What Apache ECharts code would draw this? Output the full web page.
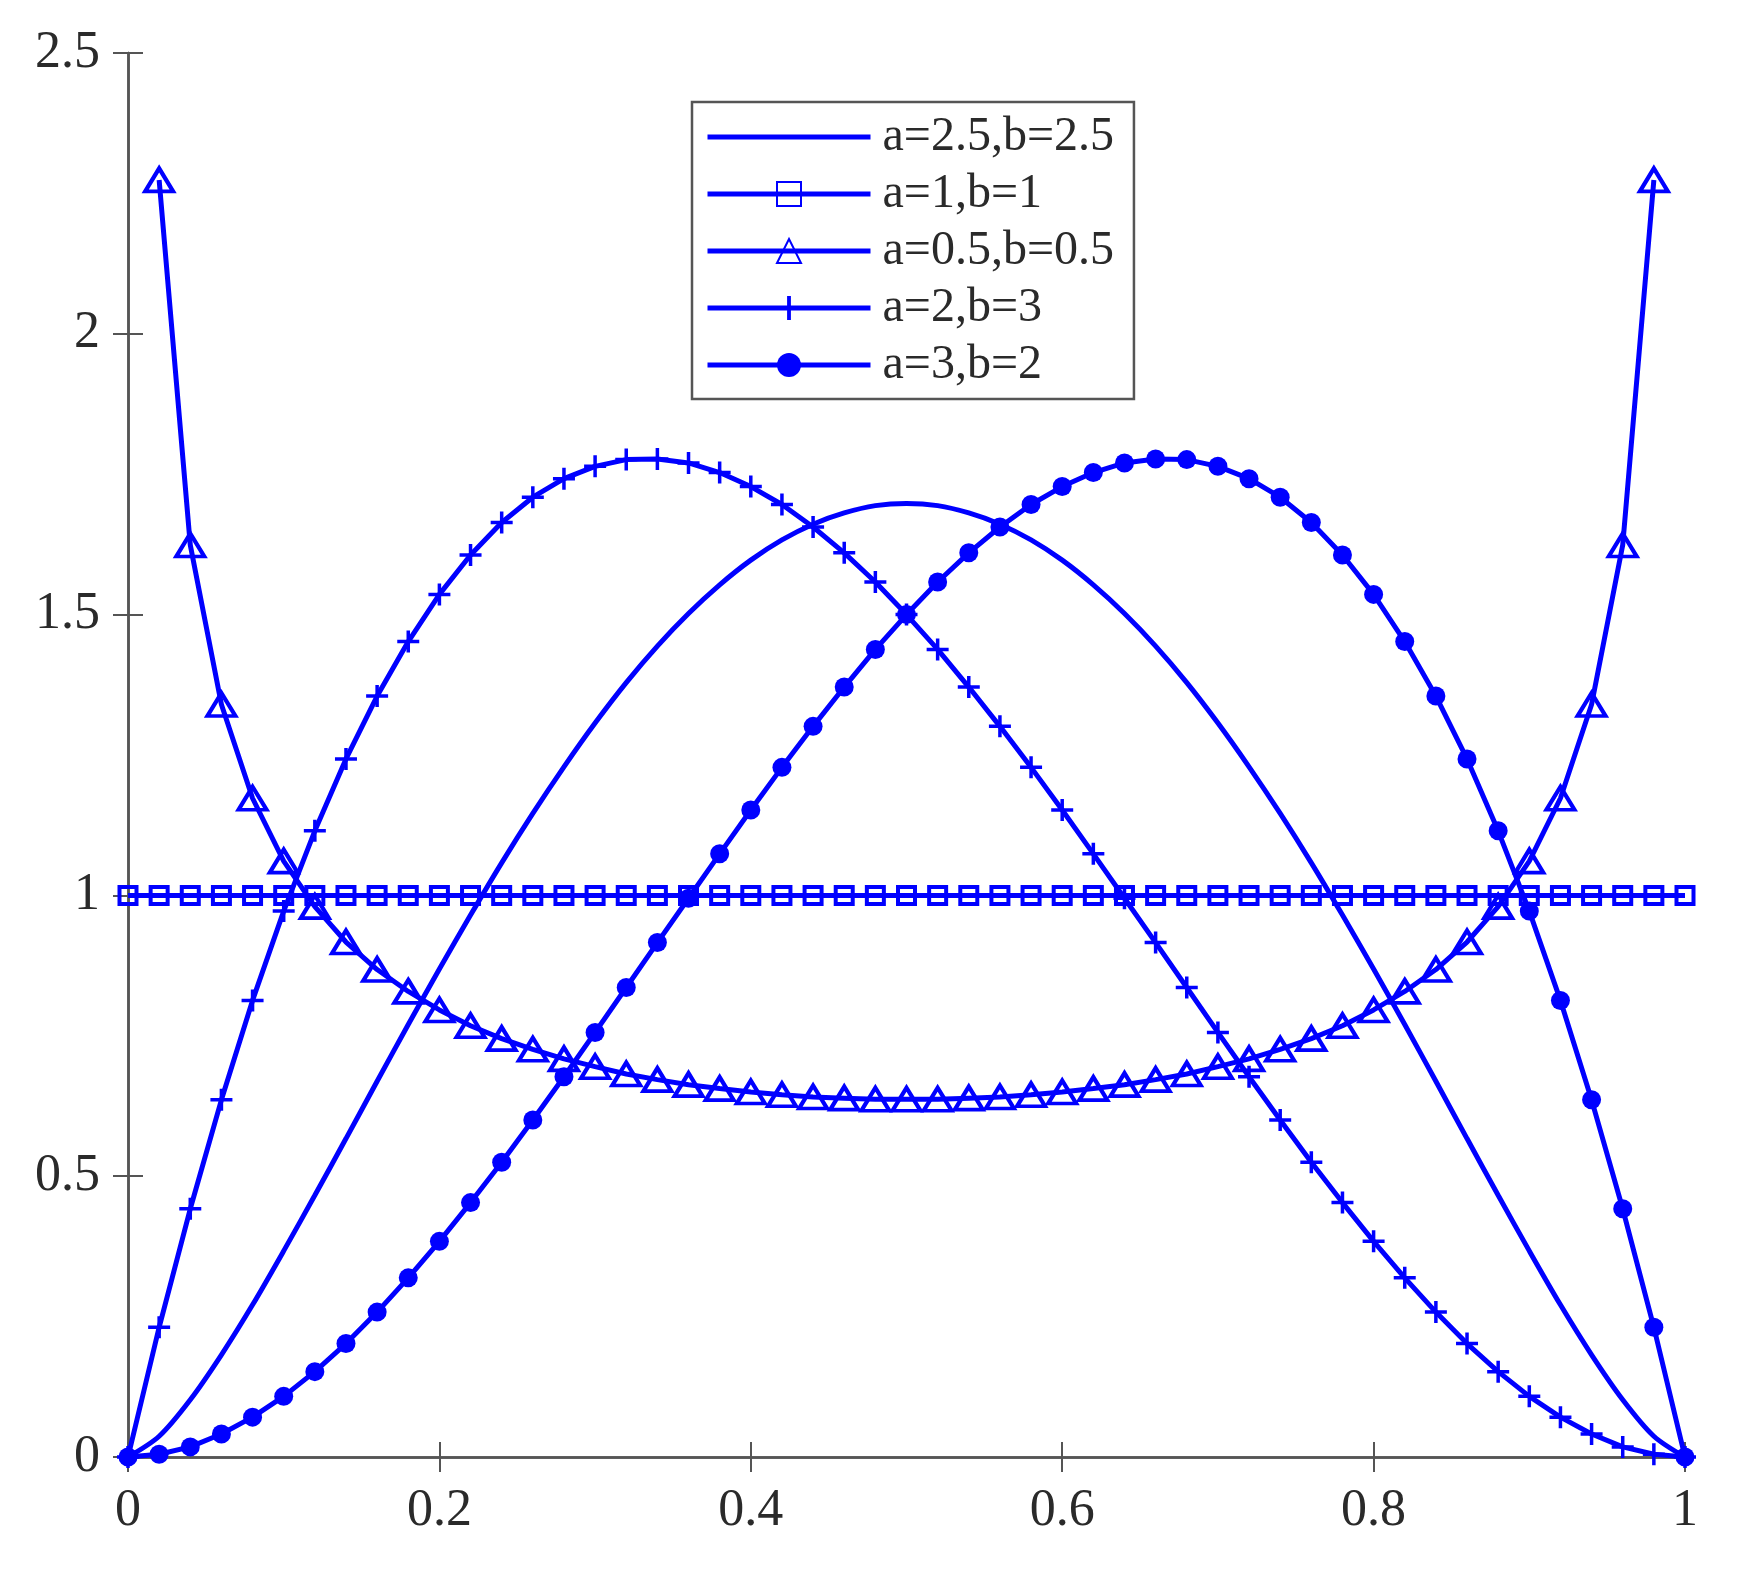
<!DOCTYPE html>
<html>
<head>
<meta charset="utf-8">
<script src="https://cdn.jsdelivr.net/npm/echarts@6/dist/echarts.min.js"></script>
<style>html,body{margin:0;padding:0;background:#fff}#c{width:1740px;height:1571px}</style>
</head>
<body>
<div id="c"></div>
<script>
const xValues = [0,0.02,0.04,0.06,0.08,0.1,0.12,0.14,0.16,0.18,0.2,0.22,0.24,0.26,0.28,0.3,0.32,0.34,0.36,0.38,0.4,0.42,0.44,0.46,0.48,0.5,0.52,0.54,0.56,0.58,0.6,0.62,0.64,0.66,0.68,0.7,0.72,0.74,0.76,0.78,0.8,0.82,0.84,0.86,0.88,0.9,0.92,0.94,0.96,0.98,1];
const seriesNames = ['a=2.5,b=2.5','a=1,b=1','a=0.5,b=0.5','a=2,b=3','a=3,b=2'];
const yA25B25 = [0,0.037,0.102,0.182,0.271,0.367,0.466,0.567,0.669,0.770,0.869,0.965,1.058,1.146,1.229,1.307,1.379,1.444,1.502,1.553,1.597,1.633,1.661,1.681,1.694,1.698,1.694,1.681,1.661,1.633,1.597,1.553,1.502,1.444,1.379,1.307,1.229,1.146,1.058,0.965,0.869,0.770,0.669,0.567,0.466,0.367,0.271,0.182,0.102,0.037,0];
const yA1B1 = [1,1,1,1,1,1,1,1,1,1,1,1,1,1,1,1,1,1,1,1,1,1,1,1,1,1,1,1,1,1,1,1,1,1,1,1,1,1,1,1,1,1,1,1,1,1,1,1,1,1,1];
const yA05B05 = [null,2.274,1.624,1.340,1.173,1.061,0.980,0.917,0.868,0.829,0.796,0.768,0.745,0.726,0.709,0.695,0.682,0.672,0.663,0.656,0.650,0.645,0.641,0.639,0.637,0.637,0.637,0.639,0.641,0.645,0.650,0.656,0.663,0.672,0.682,0.695,0.709,0.726,0.745,0.768,0.796,0.829,0.868,0.917,0.980,1.061,1.173,1.340,1.624,2.274,null];
const yA2B3 = [0,0.231,0.442,0.636,0.813,0.972,1.115,1.243,1.355,1.452,1.536,1.606,1.664,1.709,1.742,1.764,1.776,1.777,1.770,1.753,1.728,1.696,1.656,1.610,1.558,1.500,1.438,1.371,1.301,1.228,1.152,1.074,0.995,0.916,0.836,0.756,0.677,0.600,0.525,0.453,0.384,0.319,0.258,0.202,0.152,0.108,0.071,0.041,0.018,0.005,0];
const yA3B2 = [0,0.005,0.018,0.041,0.071,0.108,0.152,0.202,0.258,0.319,0.384,0.453,0.525,0.600,0.677,0.756,0.836,0.916,0.995,1.074,1.152,1.228,1.301,1.371,1.438,1.500,1.558,1.610,1.656,1.696,1.728,1.753,1.770,1.777,1.776,1.764,1.742,1.709,1.664,1.606,1.536,1.452,1.355,1.243,1.115,0.972,0.813,0.636,0.442,0.231,0];
const xTicks = [0,0.2,0.4,0.6,0.8,1];
const yTicks = [0,0.5,1,1.5,2,2.5];

const pair = ys => xValues.map((x,i) => [x, ys[i]]);
const blue = '#0000ff';
const clear = 'rgba(0,0,0,0)';
const plusPath = 'path://M9.25,0H12.75V9.25H22V12.75H12.75V22H9.25V12.75H0V9.25H9.25Z';
const font = 'Liberation Serif';
const LW = 5;

function mk(i, ys, extra) {
  return Object.assign({
    type: 'line', name: seriesNames[i], data: pair(ys),
    smooth: false, connectNulls: false,
    lineStyle: {color: blue, width: LW, type: 'solid'},
    itemStyle: {color: blue, borderColor: blue, borderWidth: 0},
    emphasis: {disabled: true}, animation: false
  }, extra);
}

const tickStyle = {show: true, inside: true, length: 15, lineStyle: {color: '#555', width: 2}};
const axisLine = {show: true, lineStyle: {color: '#555', width: 2.5}};
const fmt = v => String(parseFloat(v.toFixed(2)));

const chart = echarts.init(document.getElementById('c'), null, {renderer: 'canvas'});
chart.setOption({
  backgroundColor: '#fff',
  animation: false,
  grid: {left: 128, top: 53, right: 55, bottom: 114, containLabel: false},
  legend: {
    orient: 'vertical', left: 692, top: 102,
    padding: [10, 20, 9, 13],
    itemGap: 7, itemWidth: 163, itemHeight: 30,
    borderColor: '#555', borderWidth: 2.5, backgroundColor: '#fff',
    lineStyle: {width: LW},
    textStyle: {fontFamily: font, fontSize: 48, color: '#2a2a2a', lineHeight: 50, padding: [0,0,0,7]},
    data: seriesNames
  },
  xAxis: [
    {type: 'value', min: 0, max: 1, interval: 0.2, axisLine: axisLine, axisTick: tickStyle,
     axisLabel: {fontFamily: font, fontSize: 52, color: '#2a2a2a', margin: 28, formatter: fmt},
     splitLine: {show: false}},
    {type: 'value', position: 'top', min: 0, max: 1, interval: 0.2, axisLine: axisLine, axisTick: tickStyle,
     axisLabel: {show: false}, splitLine: {show: false}}
  ],
  yAxis: [
    {type: 'value', min: 0, max: 2.5, interval: 0.5, axisLine: axisLine, axisTick: tickStyle,
     axisLabel: {fontFamily: font, fontSize: 52, color: '#2a2a2a', margin: 28, formatter: fmt},
     splitLine: {show: false}},
    {type: 'value', position: 'right', min: 0, max: 2.5, interval: 0.5, axisLine: axisLine, axisTick: tickStyle,
     axisLabel: {show: false}, splitLine: {show: false}}
  ],
  series: [
    mk(0, yA25B25, {symbol: 'none', showSymbol: false, smooth: 0.3,
      itemStyle: {color: clear, borderColor: clear, borderWidth: 0, opacity: 0}}),
    mk(1, yA1B1, {symbol: 'rect', symbolSize: 17,
      itemStyle: {color: clear, borderColor: blue, borderWidth: 4}}),
    mk(2, yA05B05, {symbol: 'triangle', symbolSize: [28, 23],
      itemStyle: {color: clear, borderColor: blue, borderWidth: 4}}),
    mk(3, yA2B3, {symbol: plusPath, symbolSize: 22}),
    mk(4, yA3B2, {symbol: 'circle', symbolSize: 19})
  ]
});
</script>
</body>
</html>
